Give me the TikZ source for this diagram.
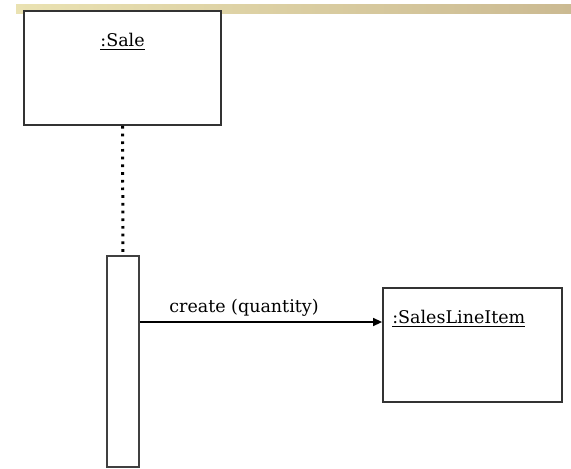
\documentclass[tikz,border=0pt]{standalone}
\usepackage{fontspec}
\setmainfont{DejaVu Serif}
\usetikzlibrary{arrows.meta, positioning, calc}
\newcommand{\sequl}[1]{\setbox0\hbox{#1}\rlap{\vrule height -2.5pt depth 4.2pt width \wd0}\box0}
\tikzset{
    seqobj/.style={rectangle, draw=black!80, fill=white, line width=1.8pt, minimum width=#1, minimum height=114pt, inner sep=0pt},
    seqact/.style={rectangle, draw=black!75, fill=white, line width=1.6pt, minimum width=32pt, minimum height=211pt, inner sep=0pt},
    seqlife/.style={line width=3pt, dash pattern=on 2.7pt off 5pt, black},
    seqmsg/.style={-{Triangle[length=9pt, width=8pt]}, line width=1.4pt, black},
    seqname/.style={font=\fontsize{17.5}{21}\selectfont, inner sep=0pt},
    seqannot/.style={font=\fontsize{17.5}{21}\selectfont, inner sep=0pt, above=5pt}
}
\definecolor{barleft}{RGB}{234,226,178}
\definecolor{barright}{RGB}{203,186,146}

\begin{document}
\begin{tikzpicture}[x=1pt, y=-1pt]
\useasboundingbox (0,0) rectangle (571,469);

% title strip
\shade[left color=barleft, right color=barright] (16,4) rectangle (571,13);

\node[seqobj=197pt] (sale) at (122.5,68) {};
\node[seqname, anchor=base] (salename) at ([yshift=-36pt]sale.north) {\sequl{:Sale}};
\node[seqact] (act) at (123,361.5) {};
\node[seqobj=179pt] (item) at (472.5,345) {};
\node[seqname, anchor=base west] (itemname) at ([xshift=10pt, yshift=-36pt]item.north west) {\sequl{:SalesLineItem}};

\draw[seqlife] (sale.south) -- (act.north);

\coordinate (call) at ([yshift=39.5pt]act.east);
\draw[seqmsg] (call) -- node[seqannot, pos=0.43] (callname) {create (quantity)} (call -| item.west);

\end{tikzpicture}
\end{document}
